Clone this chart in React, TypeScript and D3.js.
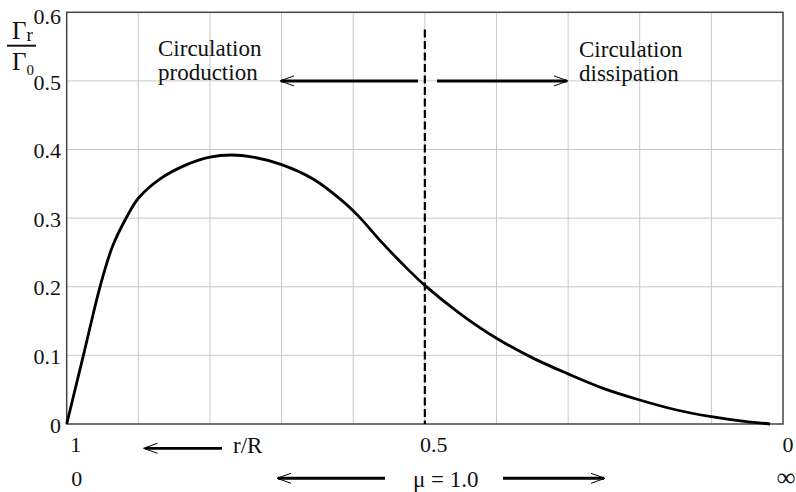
import React from "react";
import * as d3 from "d3";

// r/R position along x (0 = left edge r/R=1, 1 = right edge r/R=0)
const xPos = [0, 0.024, 0.0465, 0.064, 0.084, 0.1, 0.13, 0.1675, 0.2, 0.23, 0.26, 0.3, 0.344, 0.386, 0.41, 0.437, 0.47, 0.5, 0.549, 0.6, 0.651, 0.7, 0.749, 0.8, 0.8515, 0.9, 0.949, 0.982];
const gammaRatio = [0, 0.103, 0.2, 0.259, 0.302, 0.329, 0.357, 0.378, 0.389, 0.392, 0.389, 0.378, 0.357, 0.324, 0.3, 0.268, 0.232, 0.202, 0.161, 0.125, 0.096, 0.073, 0.052, 0.035, 0.0204, 0.0107, 0.0034, 0];

const yTicks = [0, 0.1, 0.2, 0.3, 0.4, 0.5, 0.6];
const yTickLabels = ["0", "0.1", "0.2", "0.3", "0.4", "0.5", "0.6"];
const xGrid = [0.1, 0.2, 0.3, 0.4, 0.5, 0.6, 0.7, 0.8, 0.9];
const rRPos = [0, 0.5, 1];
const rRLabels = ["1", "0.5", "0"];
const muPos = [0, 1];
const muLabels = ["0", "\u221E"];
const dividerX = 0.5;
const dividerTop = 0.575;
const arrowLevel = 0.5;

const W = 796, H = 492;
const FONT = "'Liberation Serif', 'Times New Roman', serif";

export default function App() {
  const x = d3.scaleLinear().domain([0, 1]).range([66.7, 783]);
  const y = d3.scaleLinear().domain([0, 0.6]).range([424, 12.3]);
  const pts: [number, number][] = xPos.map((v, i) => [v, gammaRatio[i]]);
  const line = d3.line<[number, number]>().x(d => x(d[0])).y(d => y(d[1])).curve(d3.curveCatmullRom.alpha(0.5));

  const yA = y(arrowLevel);
  const leftHead = (tx: number, ty: number) => `M${tx + 14},${ty - 5}L${tx},${ty}L${tx + 14},${ty + 5}`;
  const rightHead = (tx: number, ty: number) => `M${tx - 14},${ty - 5}L${tx},${ty}L${tx - 14},${ty + 5}`;

  return (
    <svg width={W} height={H} style={{ position: "absolute", left: 0, top: 0, background: "#fff" }} fontFamily={FONT}>
      <rect width={W} height={H} fill="#fff" />
      {/* grid */}
      {xGrid.map(g => (
        <line key={"gx" + g} x1={x(g)} x2={x(g)} y1={y(0.6)} y2={y(0)} stroke="#c8c8c8" strokeWidth={1} />
      ))}
      {yTicks.slice(1, -1).map(g => (
        <line key={"gy" + g} x1={x(0)} x2={x(1)} y1={y(g)} y2={y(g)} stroke="#c8c8c8" strokeWidth={1} />
      ))}
      {/* frame */}
      <rect x={x(0)} y={y(0.6)} width={x(1) - x(0)} height={y(0) - y(0.6)} fill="none" stroke="#444" strokeWidth={1.5} />

      {/* divider */}
      <line x1={x(dividerX)} x2={x(dividerX)} y1={y(dividerTop)} y2={y(0)} stroke="#000" strokeWidth={2.2} strokeDasharray="8,3.5" />

      {/* curve */}
      <path d={line(pts) || ""} fill="none" stroke="#000" strokeWidth={2.8} strokeLinejoin="round" />

      {/* y tick labels */}
      {yTicks.map((t, i) => (
        <text key={"yt" + t} x={61} y={i === yTicks.length - 1 ? y(t) + 4 : y(t) + 1} dy="0.35em" textAnchor="end" fontSize={22} fill="#111">{yTickLabels[i]}</text>
      ))}

      {/* y axis label */}
      <text x={12} y={39} fontSize={25} fill="#111">Γ<tspan fontSize={19} dy={1.5}>r</tspan></text>
      <line x1={7} x2={36} y1={45.7} y2={45.7} stroke="#111" strokeWidth={2} />
      <text x={12} y={70} fontSize={25} fill="#111">Γ<tspan fontSize={15} dy={5}>0</tspan></text>

      {/* top annotations */}
      <text x={158} y={56} fontSize={23} fill="#111">Circulation</text>
      <text x={158} y={80} fontSize={23} fill="#111">production</text>
      <text x={579} y={57} fontSize={23} fill="#111">Circulation</text>
      <text x={579} y={81} fontSize={23} fill="#111">dissipation</text>
      <line x1={281} x2={418} y1={yA} y2={yA} stroke="#000" strokeWidth={3} />
      <path d={leftHead(280, yA)} fill="none" stroke="#000" strokeWidth={1} />
      <line x1={437} x2={567} y1={yA} y2={yA} stroke="#000" strokeWidth={3} />
      <path d={rightHead(568, yA)} fill="none" stroke="#000" strokeWidth={1} />

      {/* r/R row */}
      {rRPos.map((p, i) => (
        <text key={"rr" + i} x={Math.min(x(p) + 9, 788)} y={451.5} textAnchor="middle" fontSize={22} fill="#111">{rRLabels[i]}</text>
      ))}
      <line x1={145} x2={222} y1={448.3} y2={448.3} stroke="#000" strokeWidth={2.7} />
      <path d={leftHead(143.5, 448.3)} fill="none" stroke="#000" strokeWidth={1} />
      <text x={233} y={452.5} fontSize={23} fill="#111">r/R</text>

      {/* mu row */}
      {muPos.map((p, i) => (
        <text key={"mu" + i} x={i === 0 ? x(p) + 10 : x(p) + 3} y={486} textAnchor="middle" fontSize={i === 0 ? 22 : 26} fontWeight={i === 0 ? "normal" : "bold"} fill="#111">{muLabels[i]}</text>
      ))}
      <line x1={278} x2={385} y1={478.3} y2={478.3} stroke="#000" strokeWidth={3} />
      <path d={leftHead(277, 478.3)} fill="none" stroke="#000" strokeWidth={1} />
      <text x={413} y={486.5} fontSize={23} fill="#111">μ = 1.0</text>
      <line x1={503} x2={604} y1={478.3} y2={478.3} stroke="#000" strokeWidth={3} />
      <path d={rightHead(605, 478.3)} fill="none" stroke="#000" strokeWidth={1} />
    </svg>
  );
}
